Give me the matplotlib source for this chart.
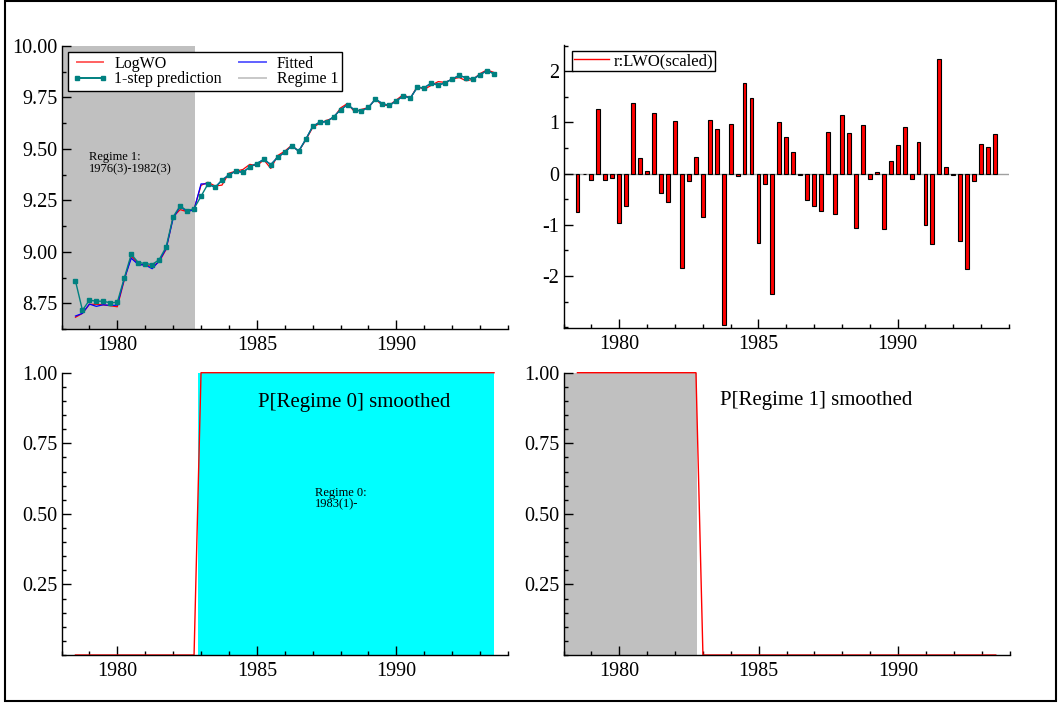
#!/usr/bin/env python3
# Markov switching model output: fit, residuals, smoothed regime probabilities

import pandas as pd
import matplotlib
matplotlib.use('Agg')
import matplotlib.pyplot as plt
from matplotlib.patches import Rectangle
from matplotlib.ticker import MultipleLocator, FixedLocator, FormatStrFormatter

plt.rcParams['font.family'] = ['Liberation Serif', 'DejaVu Serif']
plt.rcParams['axes.unicode_minus'] = False

# quarterly sample 1978(3) - 1993(3)
periods = pd.period_range('1978Q3', '1993Q3', freq='Q')
dates = [p.year + (p.quarter - 1) / 4 for p in periods]

log_wo = [8.682, 8.701, 8.745, 8.745, 8.742, 8.738, 8.733, 8.863, 8.980, 8.940,
          8.936, 8.928, 8.952, 9.012, 9.170, 9.205, 9.195, 9.207, 9.323, 9.338,
          9.320, 9.324, 9.382, 9.392, 9.400, 9.425, 9.418, 9.447, 9.405, 9.468,
          9.489, 9.518, 9.489, 9.542, 9.604, 9.624, 9.639, 9.650, 9.699, 9.721,
          9.680, 9.692, 9.701, 9.742, 9.711, 9.713, 9.738, 9.764, 9.746, 9.804,
          9.789, 9.809, 9.827, 9.823, 9.839, 9.847, 9.831, 9.838, 9.866, 9.884,
          9.871]
fitted = [8.688, 8.701, 8.746, 8.735, 8.743, 8.739, 8.741, 8.868, 8.969, 8.938,
          8.936, 8.918, 8.955, 9.016, 9.162, 9.220, 9.196, 9.204, 9.330, 9.330,
          9.313, 9.348, 9.374, 9.392, 9.386, 9.413, 9.429, 9.449, 9.424, 9.460,
          9.483, 9.515, 9.489, 9.546, 9.609, 9.630, 9.632, 9.656, 9.690, 9.715,
          9.689, 9.684, 9.702, 9.742, 9.720, 9.711, 9.734, 9.757, 9.747, 9.799,
          9.797, 9.820, 9.809, 9.822, 9.839, 9.857, 9.846, 9.839, 9.861, 9.880,
          9.865]
pred_1step = [8.859, 8.716, 8.765, 8.760, 8.760, 8.752, 8.755, 8.873, 8.988, 8.948,
              8.943, 8.938, 8.962, 9.024, 9.170, 9.223, 9.199, 9.210, 9.270, 9.330,
              9.313, 9.348, 9.374, 9.392, 9.386, 9.413, 9.429, 9.449, 9.424, 9.460,
              9.483, 9.515, 9.489, 9.546, 9.609, 9.630, 9.632, 9.656, 9.690, 9.715,
              9.689, 9.684, 9.702, 9.742, 9.720, 9.711, 9.734, 9.757, 9.747, 9.799,
              9.797, 9.820, 9.809, 9.822, 9.839, 9.857, 9.846, 9.839, 9.861, 9.880,
              9.865]
resid_scaled = [-0.75, -0.01, -0.12, 1.26, -0.13, -0.08, -0.96, -0.63, 1.37, 0.30,
                0.05, 1.19, -0.37, -0.55, 1.02, -1.84, -0.15, 0.33, -0.84, 1.04,
                0.87, -2.96, 0.97, -0.04, 1.76, 1.48, -1.35, -0.20, -2.35, 1.01,
                0.72, 0.42, -0.02, -0.51, -0.64, -0.74, 0.82, -0.79, 1.14, 0.79,
                -1.07, 0.95, -0.10, 0.03, -1.09, 0.25, 0.55, 0.90, -0.10, 0.62,
                -1.01, -1.37, 2.24, 0.13, -0.02, -1.31, -1.86, -0.15, 0.57, 0.51,
                0.78]
p_regime0 = [0, 0, 0, 0, 0, 0, 0, 0, 0, 0, 0, 0, 0, 0, 0, 0, 0, 0, 1, 1,
             1, 1, 1, 1, 1, 1, 1, 1, 1, 1, 1, 1, 1, 1, 1, 1, 1, 1, 1, 1,
             1, 1, 1, 1, 1, 1, 1, 1, 1, 1, 1, 1, 1, 1, 1, 1, 1, 1, 1, 1,
             1]
p_regime1 = [1, 1, 1, 1, 1, 1, 1, 1, 1, 1, 1, 1, 1, 1, 1, 1, 1, 1, 0, 0,
             0, 0, 0, 0, 0, 0, 0, 0, 0, 0, 0, 0, 0, 0, 0, 0, 0, 0, 0, 0,
             0, 0, 0, 0, 0, 0, 0, 0, 0, 0, 0, 0, 0, 0, 0, 0, 0, 0, 0, 0,
             0]
regime1_span = (1978.0, 1982.8)
regime0_span = (1982.9, 1993.5)

W, H = 1058, 704
fig = plt.figure(figsize=(W / 100, H / 100), dpi=100)


def setup(ax, ymin, ymax, majors, minor_step, fmt):
    for s in ['top', 'right']:
        ax.spines[s].set_visible(False)
    for s in ['left', 'bottom']:
        ax.spines[s].set_linewidth(1.0)
    ax.set_xlim(1978, 1994)
    ax.set_ylim(ymin, ymax)
    ax.xaxis.set_major_locator(FixedLocator([1980, 1985, 1990]))
    ax.xaxis.set_minor_locator(MultipleLocator(1))
    ax.yaxis.set_major_locator(FixedLocator(majors))
    ax.yaxis.set_minor_locator(MultipleLocator(minor_step))
    ax.yaxis.set_major_formatter(FormatStrFormatter(fmt))
    ax.tick_params(which='both', direction='in', labelsize=14.5, width=1.0)
    ax.tick_params(which='major', length=6.5)
    ax.tick_params(which='minor', length=3)
    ax.tick_params(axis='y', pad=3)
    ax.tick_params(axis='x', pad=5)


# top left: actual, fitted, prediction
ax1 = fig.add_axes([61.5 / W, 1 - 329 / H, 446.5 / W, 283 / H])
setup(ax1, 8.625, 10.0, [8.75, 9.0, 9.25, 9.5, 9.75, 10.0], 0.125, '%.2f')
ax1.axvspan(*regime1_span, color='#c0c0c0', lw=0, zorder=0)
ax1.plot(dates, log_wo, color='red', lw=0.9, label='LogWO')
ax1.plot(dates, fitted, color='blue', lw=0.9, label='Fitted')
ax1.plot(dates, pred_1step, color='#008080', lw=1.0, marker='s', ms=3.2,
         label='1-step prediction')
ax1.plot([], [], color='#c8c8c8', lw=1, label='Regime 1')
h, l = ax1.get_legend_handles_labels()
order = [0, 2, 1, 3]
leg1 = ax1.legend([h[i] for i in order], [l[i] for i in order], ncol=2,
                  loc='upper left', bbox_to_anchor=(0.0155, 0.978),
                  borderaxespad=0, fontsize=11.5, frameon=True, fancybox=False,
                  framealpha=1, edgecolor='black', handlelength=2.25,
                  columnspacing=0.8, borderpad=0.22, labelspacing=-0.04,
                  handletextpad=0.4, numpoints=2)
leg1.get_frame().set_linewidth(1.0)
leg1.get_lines()[0].set_color('#ff6060')
leg1.get_lines()[2].set_color('#6060ff')
for ln in leg1.get_lines():
    ln.set_linewidth(1.4)
ax1.text(1979.0, 9.49, 'Regime 1:\n1976(3)-1982(3)', fontsize=9,
         va='top', ha='left', linespacing=1.0)

# top right: scaled residuals
ax2 = fig.add_axes([563.6 / W, 1 - 328.3 / H, 445.4 / W, 283.3 / H])
setup(ax2, -3.02, 2.51, [-2, -1, 0, 1, 2], 0.5, '%g')
ax2.axhline(0, color='#a0a0a0', lw=1, zorder=1)
ax2.bar(dates, resid_scaled, width=0.14, color='red', edgecolor='black',
        lw=0.8, zorder=2)
ax2.plot([], [], color='red', lw=1, label='r:LWO(scaled)')
leg2 = ax2.legend(loc='upper left', bbox_to_anchor=(0.019, 0.979),
                  borderaxespad=0, fontsize=12, fancybox=False, framealpha=1,
                  edgecolor='black', handlelength=2.1, borderpad=0.12,
                  handletextpad=0.25)
leg2.get_frame().set_linewidth(1.0)

# bottom left: P[Regime 0]
ax3 = fig.add_axes([61.5 / W, 1 - 655 / H, 446.5 / W, 282.3 / H])
setup(ax3, 0, 1.0, [0.25, 0.5, 0.75, 1.0], 0.05, '%.2f')
ax3.axvspan(*regime0_span, color='cyan', lw=0, zorder=0)
ax3.plot(dates, p_regime0, color='red', lw=1.0, clip_on=False)
ax3.text(1988.5, 0.893, 'P[Regime 0] smoothed', fontsize=15,
         ha='center', va='center')
ax3.text(1987.08, 0.596, 'Regime 0:\n1983(1)-', fontsize=9,
         ha='left', va='top', linespacing=1.0)

# bottom right: P[Regime 1]
ax4 = fig.add_axes([563.5 / W, 1 - 655 / H, 446.2 / W, 282.3 / H])
setup(ax4, 0, 1.0, [0.25, 0.5, 0.75, 1.0], 0.05, '%.2f')
ax4.axvspan(*regime1_span, color='#c0c0c0', lw=0, zorder=0)
ax4.plot(dates, p_regime1, color='red', lw=1.0, clip_on=False)
ax4.text(1987.07, 0.903, 'P[Regime 1] smoothed', fontsize=15,
         ha='center', va='center')

# outer frame
fig.add_artist(Rectangle((4.5 / W, 3 / H), 1051 / W, 700.5 / H,
                         transform=fig.transFigure, fill=False,
                         lw=1.5, ec='black'))

fig.savefig('out.png', dpi=100)
plt.close(fig)
